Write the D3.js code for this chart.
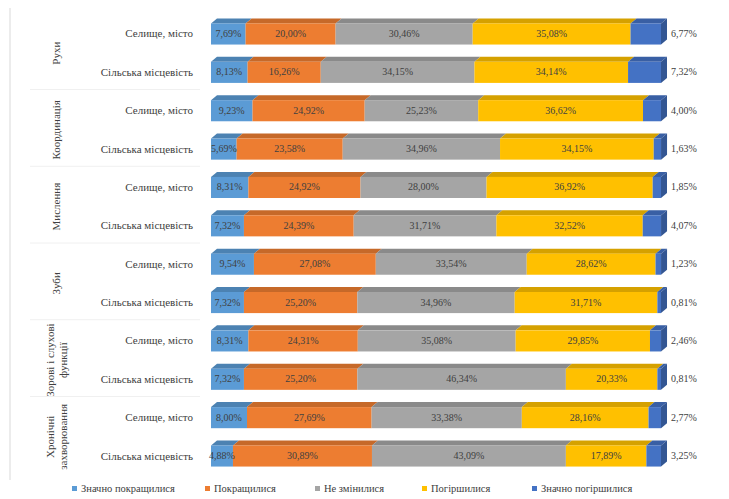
<!DOCTYPE html>
<html><head><meta charset="utf-8">
<script src="https://cdn.jsdelivr.net/npm/d3@7"></script>
<style>body{margin:0;background:#fff}svg{display:block}svg text{font-family:"Times New Roman","Liberation Serif","DejaVu Serif",serif}</style>
</head><body>
<svg id="c" width="729" height="499"></svg>
<script>
const groups = [["Рухи"],["Координація"],["Мислення"],["Зуби"],["Зорові і слухові","функції"],["Хронічні","захворювання"]];
const places = ["Селище, місто","Сільська місцевість"];
const series = ["Значно покращилися","Покращилися","Не змінилися","Погіршилися","Значно погіршилися"];
const colors = ["#5B9BD5","#ED7D31","#A5A5A5","#FFC000","#4472C4"];
const sigImproved = [7.69,8.13,9.23,5.69,8.31,7.32,9.54,7.32,8.31,7.32,8.00,4.88];
const improved = [20.00,16.26,24.92,23.58,24.92,24.39,27.08,25.20,24.31,25.20,27.69,30.89];
const unchanged = [30.46,34.15,25.23,34.96,28.00,31.71,33.54,34.96,35.08,46.34,33.38,43.09];
const worsened = [35.08,34.14,36.62,34.15,36.92,32.52,28.62,31.71,29.85,20.33,28.16,17.89];
const sigWorsened = [6.77,7.32,4.00,1.63,1.85,4.07,1.23,0.81,2.46,0.81,2.77,3.25];

const vals = [sigImproved, improved, unchanged, worsened, sigWorsened];
const rows = [];
groups.forEach((g,gi)=>places.forEach((p,pi)=>rows.push({id:gi*2+pi, g:gi, place:p})));

const svg = d3.select("#c");
const x = d3.scaleLinear().domain([0,100]).range([211,661]);
const y = d3.scaleBand().domain(rows.map(r=>r.id)).range([15,475]).paddingInner(0.45).paddingOuter(0.22);
const dx = 6, dy = -5;
const fmt = v => d3.format(".2f")(v).replace(".",",") + "%";

svg.append("line").attr("x1",10).attr("x2",10).attr("y1",8).attr("y2",480).attr("stroke","#d9d9d9");

rows.forEach(r=>{
  let cum = 0;
  const y0 = y(r.id), h = y.bandwidth();
  const gr = svg.append("g");
  vals.forEach((arr,si)=>{
    const v = arr[r.id];
    const xa = x(cum), xb = x(cum+v);
    const c = d3.color(colors[si]);
    gr.append("path").attr("d",`M${xa},${y0}L${xa+dx},${y0+dy}L${xb+dx},${y0+dy}L${xb},${y0}Z`)
      .attr("fill",c.darker(0.5));
    gr.append("rect").attr("x",xa).attr("y",y0).attr("width",xb-xa).attr("height",h).attr("fill",c);
    if(si===4){
      gr.append("path").attr("d",`M${xb},${y0}L${xb+dx},${y0+dy}L${xb+dx},${y0+dy+h}L${xb},${y0+h}Z`)
        .attr("fill",c.darker(0.8));
      svg.append("text").attr("x",xb+dx+4).attr("y",y0+h/2+3).attr("font-size",10).attr("fill","#404040").text(fmt(v));
    } else {
      svg.append("text").attr("x",(xa+xb)/2).attr("y",y0+h/2+3).attr("text-anchor","middle")
        .attr("font-size",10).attr("fill","#404040").text(fmt(v));
    }
    cum += v;
  });
  svg.append("text").attr("x",193).attr("y",y0+h/2+3.5).attr("text-anchor","end").attr("font-size",11)
    .attr("fill","#404040").text(r.place);
});

groups.forEach((g,gi)=>{
  const cy = (y(gi*2)+y(gi*2+1)+y.bandwidth())/2;
  g.forEach((line,li)=>{
    const cx = 56 + (li - (g.length-1)/2)*13;
    svg.append("text").attr("transform",`translate(${cx+4},${cy}) rotate(-90)`).attr("text-anchor","middle")
      .attr("font-size",11).attr("fill","#404040").text(line);
  });
  if(gi>0){
    const yy = y(gi*2) - (y.step()-y.bandwidth())/2 - 2;
    svg.append("line").attr("x1",30).attr("x2",200).attr("y1",yy).attr("y2",yy).attr("stroke","#f0f0f0");
  }
});

const lx = [72,205,315,422,532];
series.forEach((s,i)=>{
  svg.append("rect").attr("x",lx[i]).attr("y",486).attr("width",5).attr("height",5).attr("fill",colors[i]);
  svg.append("text").attr("x",lx[i]+9).attr("y",492).attr("font-size",10.5).attr("fill","#404040").text(s);
});
</script>
</body></html>
